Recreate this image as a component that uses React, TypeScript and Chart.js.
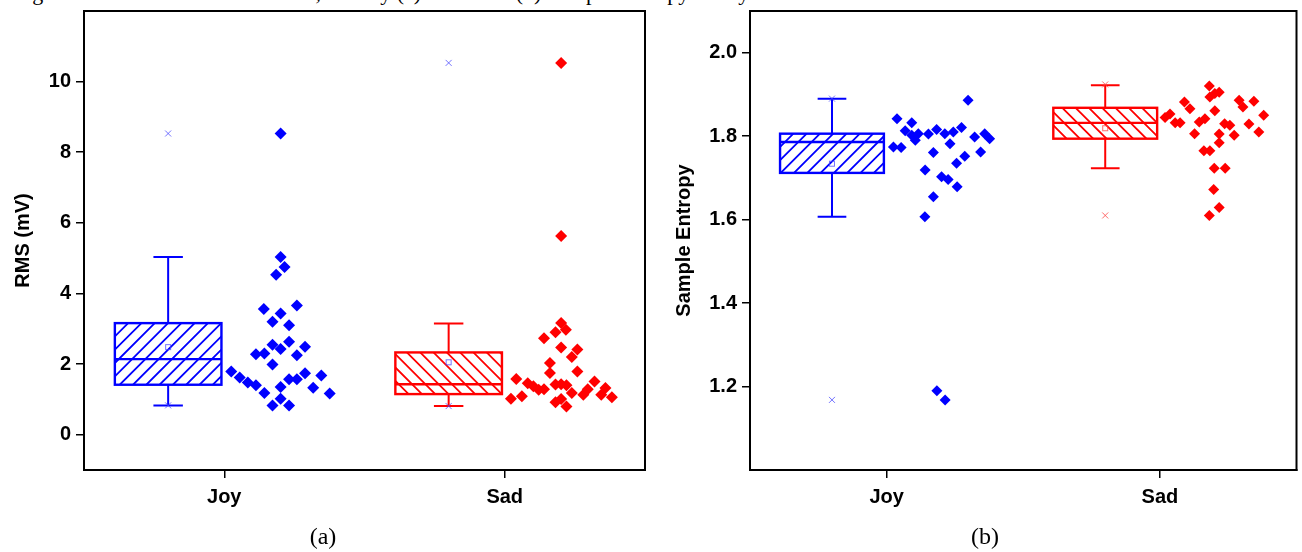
import React, { useEffect, useRef } from "react";
import { Chart, registerables } from "chart.js";

Chart.register(...registerables);
Chart.defaults.font.family = "'Liberation Sans', Arial, sans-serif";

// ---------- shared data ----------
const categories = ["Joy", "Sad"];
const categoryPositions = [1, 2];

// ---------- (a) RMS (mV) ----------
const rmsYTicks = [0, 2, 4, 6, 8, 10];
const joyRmsX = [1.201, 1.201, 1.215, 1.185, 1.141, 1.259, 1.201, 1.172, 1.231, 1.231, 1.172, 1.201, 1.288, 1.113, 1.143, 1.259, 1.172, 1.025, 1.055, 1.084, 1.113, 1.143, 1.231, 1.259, 1.288, 1.346, 1.201, 1.317, 1.376, 1.172, 1.201, 1.231];
const joyRmsValues = [8.53, 5.03, 4.75, 4.53, 3.56, 3.66, 3.43, 3.2, 3.1, 2.63, 2.55, 2.43, 2.49, 2.28, 2.3, 2.25, 1.99, 1.79, 1.62, 1.48, 1.4, 1.18, 1.57, 1.57, 1.74, 1.68, 1.35, 1.33, 1.17, 0.83, 1.02, 0.83];
const sadRmsX = [2.201, 2.201, 2.201, 2.218, 2.181, 2.14, 2.201, 2.259, 2.239, 2.161, 2.161, 2.259, 2.041, 2.082, 2.102, 2.121, 2.14, 2.181, 2.201, 2.22, 2.239, 2.32, 2.296, 2.28, 2.359, 2.344, 2.382, 2.022, 2.061, 2.181, 2.201, 2.22];
const sadRmsValues = [10.53, 5.63, 3.16, 2.97, 2.9, 2.73, 2.47, 2.41, 2.2, 2.03, 1.75, 1.79, 1.58, 1.46, 1.37, 1.27, 1.29, 1.42, 1.43, 1.4, 1.18, 1.51, 1.29, 1.13, 1.32, 1.13, 1.06, 1.02, 1.09, 0.92, 1.01, 0.8];
// [lower whisker, Q1, median, Q3, upper whisker]
const joyRmsBox = [0.83, 1.415, 2.14, 3.16, 5.03];
const sadRmsBox = [0.81, 1.15, 1.43, 2.33, 3.15];
const rmsMeans = [2.48, 2.05];
const joyRmsMinMax = [0.83, 8.53];
const sadRmsMinMax = [0.81, 10.53];

// ---------- (b) Sample Entropy ----------
const sampEnYTicks = [1.2, 1.4, 1.6, 1.8, 2.0];
const joySampEnX = [1.038, 1.092, 1.068, 1.025, 1.053, 1.092, 1.116, 1.153, 1.183, 1.213, 1.244, 1.274, 1.232, 1.171, 1.141, 1.201, 1.225, 1.256, 1.286, 1.258, 1.171, 1.322, 1.359, 1.377, 1.344, 1.298, 1.14, 1.184, 1.214, 1.105];
const joySampEnValues = [1.842, 1.832, 1.813, 1.774, 1.773, 1.802, 1.806, 1.805, 1.816, 1.806, 1.81, 1.821, 1.782, 1.761, 1.719, 1.703, 1.696, 1.735, 1.752, 1.679, 1.655, 1.798, 1.806, 1.794, 1.762, 1.886, 1.607, 1.19, 1.168, 1.79];
const sadSampEnX = [2.019, 2.037, 2.056, 2.074, 2.09, 2.11, 2.127, 2.144, 2.165, 2.181, 2.183, 2.201, 2.217, 2.201, 2.217, 2.217, 2.237, 2.256, 2.272, 2.161, 2.183, 2.199, 2.239, 2.197, 2.217, 2.181, 2.29, 2.304, 2.344, 2.326, 2.362, 2.38];
const sadSampEnValues = [1.845, 1.853, 1.832, 1.832, 1.882, 1.866, 1.806, 1.834, 1.842, 1.92, 1.894, 1.902, 1.905, 1.861, 1.805, 1.784, 1.83, 1.826, 1.802, 1.765, 1.765, 1.723, 1.723, 1.672, 1.629, 1.61, 1.886, 1.87, 1.884, 1.829, 1.81, 1.85];
const joySampEnBox = [1.607, 1.712, 1.786, 1.806, 1.89];
const sadSampEnBox = [1.723, 1.794, 1.832, 1.868, 1.922];
const sampEnMeans = [1.734, 1.819];
const joySampEnMinMax = [1.168, 1.89];
const sadSampEnMinMax = [1.61, 1.924];

const BLUE = "#0000ff";
const RED = "#ff0000";
const BLUE_MARK = "rgba(70,70,255,0.75)";
const RED_MARK = "rgba(255,70,70,0.8)";

const BOX_OFFSET = -0.2;
const BOX_WIDTH = 0.38;
const CAP_WIDTH = 0.105;
const HATCH_SPACING = 13.3;

const boxPlugin = {
  id: "boxes",
  afterDatasetsDraw(chart: any, _args: any, opts: any) {
    const { ctx, chartArea, scales } = chart;
    const x = scales.x;
    const y = scales.y;
    ctx.save();
    ctx.beginPath();
    ctx.rect(chartArea.left, chartArea.top, chartArea.width, chartArea.height);
    ctx.clip();
    for (const b of opts.boxes) {
      const c = b.pos + BOX_OFFSET;
      const xl = x.getPixelForValue(c - BOX_WIDTH / 2);
      const xr = x.getPixelForValue(c + BOX_WIDTH / 2);
      const xc = x.getPixelForValue(c);
      const cl = x.getPixelForValue(c - CAP_WIDTH / 2);
      const cr = x.getPixelForValue(c + CAP_WIDTH / 2);
      const [wl, q1, med, q3, wh] = b.stats;
      const ywl = y.getPixelForValue(wl);
      const yq1 = y.getPixelForValue(q1);
      const ymed = y.getPixelForValue(med);
      const yq3 = y.getPixelForValue(q3);
      const ywh = y.getPixelForValue(wh);
      // hatch
      ctx.save();
      ctx.beginPath();
      ctx.rect(xl, yq3, xr - xl, yq1 - yq3);
      ctx.clip();
      ctx.strokeStyle = b.color;
      ctx.lineWidth = 1.8;
      const h = yq1 - yq3;
      ctx.beginPath();
      for (let k = xl - h - HATCH_SPACING; k < xr + h + HATCH_SPACING; k += HATCH_SPACING) {
        if (b.hatch === "/") {
          ctx.moveTo(k, yq1);
          ctx.lineTo(k + h, yq3);
        } else {
          ctx.moveTo(k, yq3);
          ctx.lineTo(k + h, yq1);
        }
      }
      ctx.stroke();
      ctx.restore();
      // whiskers
      ctx.strokeStyle = b.color;
      ctx.lineWidth = 2;
      ctx.beginPath();
      ctx.moveTo(xc, yq3);
      ctx.lineTo(xc, ywh);
      ctx.moveTo(xc, yq1);
      ctx.lineTo(xc, ywl);
      ctx.moveTo(cl, ywh);
      ctx.lineTo(cr, ywh);
      ctx.moveTo(cl, ywl);
      ctx.lineTo(cr, ywl);
      ctx.stroke();
      // box + median
      ctx.lineWidth = 2.4;
      ctx.strokeRect(xl, yq3, xr - xl, yq1 - yq3);
      ctx.beginPath();
      ctx.moveTo(xl, ymed);
      ctx.lineTo(xr, ymed);
      ctx.stroke();
      // mean square
      ctx.strokeStyle = b.markColor;
      ctx.lineWidth = 1;
      const ym = y.getPixelForValue(b.mean);
      ctx.strokeRect(xc - 2.5, ym - 2.5, 5, 5);
      // min / max crosses
      for (const v of b.minMax) {
        const yy = y.getPixelForValue(v);
        ctx.beginPath();
        ctx.moveTo(xc - 3, yy - 3);
        ctx.lineTo(xc + 3, yy + 3);
        ctx.moveTo(xc - 3, yy + 3);
        ctx.lineTo(xc + 3, yy - 3);
        ctx.stroke();
      }
    }
    ctx.restore();
  },
  afterDraw(chart: any) {
    const { ctx, chartArea } = chart;
    ctx.save();
    ctx.strokeStyle = "#000";
    ctx.lineWidth = 2;
    ctx.strokeRect(chartArea.left, chartArea.top, chartArea.width, chartArea.height);
    ctx.restore();
  },
};

function points(xs: number[], vs: number[]) {
  return vs.map((v, i) => ({ x: xs[i], y: v }));
}

function makeConfig(p: any) {
  return {
    type: "scatter",
    data: {
      datasets: p.series.map((s: any) => ({
        data: points(s.x, s.v),
        pointStyle: "rectRot",
        pointRadius: p.radius,
        backgroundColor: s.color,
        borderColor: s.color,
        borderWidth: 0,
      })),
    },
    plugins: [boxPlugin],
    options: {
      animation: false,
      responsive: false,
      events: [],
      layout: { padding: { top: 11, right: p.padRight, bottom: 0, left: 0 } },
      plugins: {
        legend: { display: false },
        tooltip: { enabled: false },
        boxes: { boxes: p.boxes },
      },
      scales: {
        x: {
          type: "linear",
          min: 0.5,
          max: 2.5,
          afterBuildTicks: (ax: any) => {
            ax.ticks = categoryPositions.map((v) => ({ value: v }));
          },
          afterFit: (s: any) => {
            s.height = 82;
            s.paddingLeft = 0;
            s.paddingRight = 0;
          },
          ticks: {
            callback: (v: number) => {
              const i = categoryPositions.indexOf(v);
              return i >= 0 ? categories[i] : "";
            },
            font: { size: 20, weight: "bold" },
            color: "#000",
            padding: 7,
            maxRotation: 0,
            autoSkip: false,
          },
          grid: { drawOnChartArea: false, drawTicks: true, tickLength: 8, color: "#000", lineWidth: 1.5 },
          border: { display: true, color: "#000", width: 2 },
        },
        y: {
          type: "linear",
          min: p.yMin,
          max: p.yMax,
          afterBuildTicks: (ax: any) => {
            ax.ticks = p.yTicks.map((v: number) => ({ value: v }));
          },
          afterFit: (s: any) => {
            s.width = p.yWidth;
            s.paddingTop = 0;
            s.paddingBottom = 0;
          },
          ticks: {
            callback: (v: number) => p.fmt(v),
            font: { size: 20, weight: "bold" },
            color: "#000",
            padding: 5,
            autoSkip: false,
          },
          grid: { drawOnChartArea: false, drawTicks: true, tickLength: 8, color: "#000", lineWidth: 1.5 },
          border: { display: true, color: "#000", width: 2 },
          title: {
            display: true,
            text: p.yTitle,
            font: { size: 20, weight: "bold" },
            color: "#000",
            padding: { top: p.titlePad, bottom: 0 },
          },
        },
      },
    },
  };
}

export default function App() {
  const refA = useRef<HTMLCanvasElement | null>(null);
  const refB = useRef<HTMLCanvasElement | null>(null);

  useEffect(() => {
    const a = new Chart(
      refA.current as HTMLCanvasElement,
      makeConfig({
        series: [
          { x: joyRmsX, v: joyRmsValues, color: BLUE },
          { x: sadRmsX, v: sadRmsValues, color: RED },
        ],
        radius: 6,
        padRight: 15,
        yMin: -1,
        yMax: 12,
        yTicks: rmsYTicks,
        yWidth: 84,
        fmt: (v: number) => String(v),
        yTitle: "RMS (mV)",
        titlePad: 11,
        boxes: [
          { pos: categoryPositions[0], stats: joyRmsBox, color: BLUE, hatch: "/", markColor: BLUE_MARK, mean: rmsMeans[0], minMax: joyRmsMinMax },
          { pos: categoryPositions[1], stats: sadRmsBox, color: RED, hatch: "\\", markColor: BLUE_MARK, mean: rmsMeans[1], minMax: sadRmsMinMax },
        ],
      }) as any
    );
    const b = new Chart(
      refB.current as HTMLCanvasElement,
      makeConfig({
        series: [
          { x: joySampEnX, v: joySampEnValues, color: BLUE },
          { x: sadSampEnX, v: sadSampEnValues, color: RED },
        ],
        radius: 5.5,
        padRight: 1,
        yMin: 1.0,
        yMax: 2.1,
        yTicks: sampEnYTicks,
        yWidth: 90,
        fmt: (v: number) => v.toFixed(1),
        yTitle: "Sample Entropy",
        titlePad: 12,
        boxes: [
          { pos: categoryPositions[0], stats: joySampEnBox, color: BLUE, hatch: "/", markColor: BLUE_MARK, mean: sampEnMeans[0], minMax: joySampEnMinMax },
          { pos: categoryPositions[1], stats: sadSampEnBox, color: RED, hatch: "\\", markColor: RED_MARK, mean: sampEnMeans[1], minMax: sadSampEnMinMax },
        ],
      }) as any
    );
    return () => {
      a.destroy();
      b.destroy();
    };
  }, []);

  const serif = "'Liberation Serif', 'Times New Roman', serif";
  return (
    <div style={{ position: "absolute", left: 0, top: 0, width: 1302, height: 552, background: "#fff", overflow: "hidden" }}>
      <div style={{ position: "absolute", left: 14, top: -19, fontFamily: serif, fontSize: 22, lineHeight: "24px", whiteSpace: "nowrap" }}>
        Figure 5. The variation of features, namely (a) RMS and (b) Sample Entropy of Joy and Sadness audio of Sad Sama
      </div>
      <canvas ref={refA} width={660} height={552} style={{ position: "absolute", left: 0, top: 0 }} />
      <canvas ref={refB} width={642} height={552} style={{ position: "absolute", left: 660, top: 0 }} />
      <div style={{ position: "absolute", left: 323, top: 536, transform: "translate(-50%,-50%)", fontFamily: serif, fontSize: 24 }}>(a)</div>
      <div style={{ position: "absolute", left: 985, top: 536, transform: "translate(-50%,-50%)", fontFamily: serif, fontSize: 24 }}>(b)</div>
    </div>
  );
}
